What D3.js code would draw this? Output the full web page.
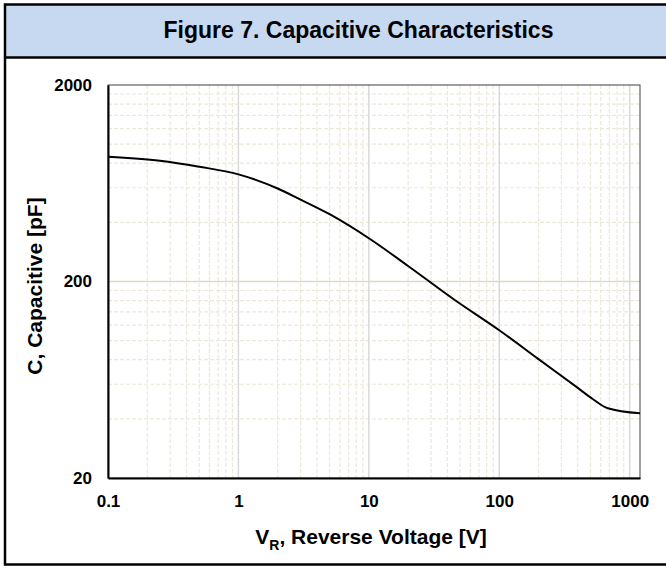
<!DOCTYPE html>
<html><head><meta charset="utf-8">
<script src="https://cdn.jsdelivr.net/npm/d3@7"></script>
<style>body{margin:0;background:#fff;overflow:hidden}svg{display:block}text{font-family:"Liberation Sans",Arial,sans-serif;font-weight:bold;fill:#000}</style>
</head><body>
<svg id="c" width="666" height="568"></svg>
<script>
const title = "Figure 7. Capacitive Characteristics";
const voltage = [0.1, 0.25, 0.5, 1, 2, 3, 5, 10, 20, 45, 100, 200, 400, 520, 680, 1200];
const capacitance = [863, 824, 768, 702, 595, 522, 440, 332, 240, 162, 113, 80.5, 57.5, 50.5, 45.3, 42.7];
const xTicks = [0.1, 1, 10, 100, 1000];
const xTickLabels = ["0.1", "1", "10", "100", "1000"];
const yTicks = [20, 200, 2000];
const yTickLabels = ["20", "200", "2000"];
const xDomain = [0.1, 1200];
const yDomain = [20, 2000];

const svg = d3.select("#c");
const L = 108, R = 640, T = 85, B = 478;
const x = d3.scaleLog().domain(xDomain).range([L, R]);
const y = d3.scaleLog().domain(yDomain).range([B, T]);

// frame & title band (frame continues past the right edge of the picture)
const FL = 5, FR = 712;
svg.append("rect").attr("x",FL).attr("y",4.5).attr("width",FR-FL).attr("height",53).attr("fill","#C6D9F1");
svg.append("line").attr("x1",FL).attr("x2",FR).attr("y1",57.5).attr("y2",57.5).attr("stroke","#000").attr("stroke-width",2.5);
svg.append("rect").attr("x",FL).attr("y",4.5).attr("width",FR-FL).attr("height",560).attr("fill","none").attr("stroke","#000").attr("stroke-width",2.5);
svg.append("text").attr("x",(FL+FR)/2).attr("y",38).attr("text-anchor","middle").style("font-size","23px").text(title);

// gridlines
const g = svg.append("g");
const minorX = [];
for (let k = -1; k <= 3; k++) for (let m = 2; m <= 9; m++) { const v = m * Math.pow(10,k); if (v < xDomain[1]) minorX.push(v); }
const minorY = [];
for (let k = 1; k <= 2; k++) for (let m = 2; m <= 9; m++) minorY.push(m * 2 * Math.pow(10,k));
g.selectAll(".mx").data(minorX).join("line").attr("x1",d=>x(d)).attr("x2",d=>x(d)).attr("y1",T).attr("y2",B)
  .attr("stroke","#EBE8DA").attr("stroke-width",1.2).attr("stroke-dasharray","4,2");
g.selectAll(".my").data(minorY).join("line").attr("x1",L).attr("x2",R).attr("y1",d=>y(d)).attr("y2",d=>y(d))
  .attr("stroke","#EBE8DA").attr("stroke-width",1.2).attr("stroke-dasharray","4,2");
g.selectAll(".Mx").data(xTicks.slice(1)).join("line").attr("x1",d=>x(d)).attr("x2",d=>x(d)).attr("y1",T).attr("y2",B)
  .attr("stroke","#D9D9D9").attr("stroke-width",1.5);
g.selectAll(".My").data(yTicks.slice(1,-1)).join("line").attr("x1",L).attr("x2",R).attr("y1",d=>y(d)).attr("y2",d=>y(d))
  .attr("stroke","#DDD9C3").attr("stroke-width",1.5);

// plot border
svg.append("rect").attr("x",L).attr("y",T).attr("width",R-L).attr("height",B-T).attr("fill","none").attr("stroke","#404040").attr("stroke-width",1);

// curve
const line = d3.line().x((d,i)=>x(voltage[i])).y((d,i)=>y(capacitance[i])).curve(d3.curveMonotoneX);
svg.append("path").datum(capacitance).attr("d",line).attr("fill","none").attr("stroke","#000").attr("stroke-width",2);

// axes
const xAxis = d3.axisBottom(x).tickValues(xTicks).tickFormat((d,i)=>xTickLabels[i]).tickSize(0).tickPadding(17);
const yAxis = d3.axisLeft(y).tickValues(yTicks).tickFormat((d,i)=>yTickLabels[i]).tickSize(0).tickPadding(16);
const gx = svg.append("g").attr("transform",`translate(0,${B})`).call(xAxis);
const gy = svg.append("g").attr("transform",`translate(${L},0)`).call(yAxis);
[gx,gy].forEach(a=>{a.select(".domain").attr("stroke","#000").attr("stroke-width",2);a.selectAll("text").style("font-size","17px").style("font-family","'Liberation Sans',Arial,sans-serif").style("font-weight","bold");});

// axis titles
const xt = svg.append("text").attr("x",371).attr("y",544).attr("text-anchor","middle").style("font-size","21px");
xt.append("tspan").text("V");
xt.append("tspan").attr("dy",6).style("font-size","14px").text("R");
xt.append("tspan").attr("dy",-6).text(", Reverse Voltage [V]");
svg.append("text").attr("transform",`translate(42,286) rotate(-90)`).attr("text-anchor","middle").style("font-size","21px").text("C, Capacitive [pF]");
</script></body></html>
